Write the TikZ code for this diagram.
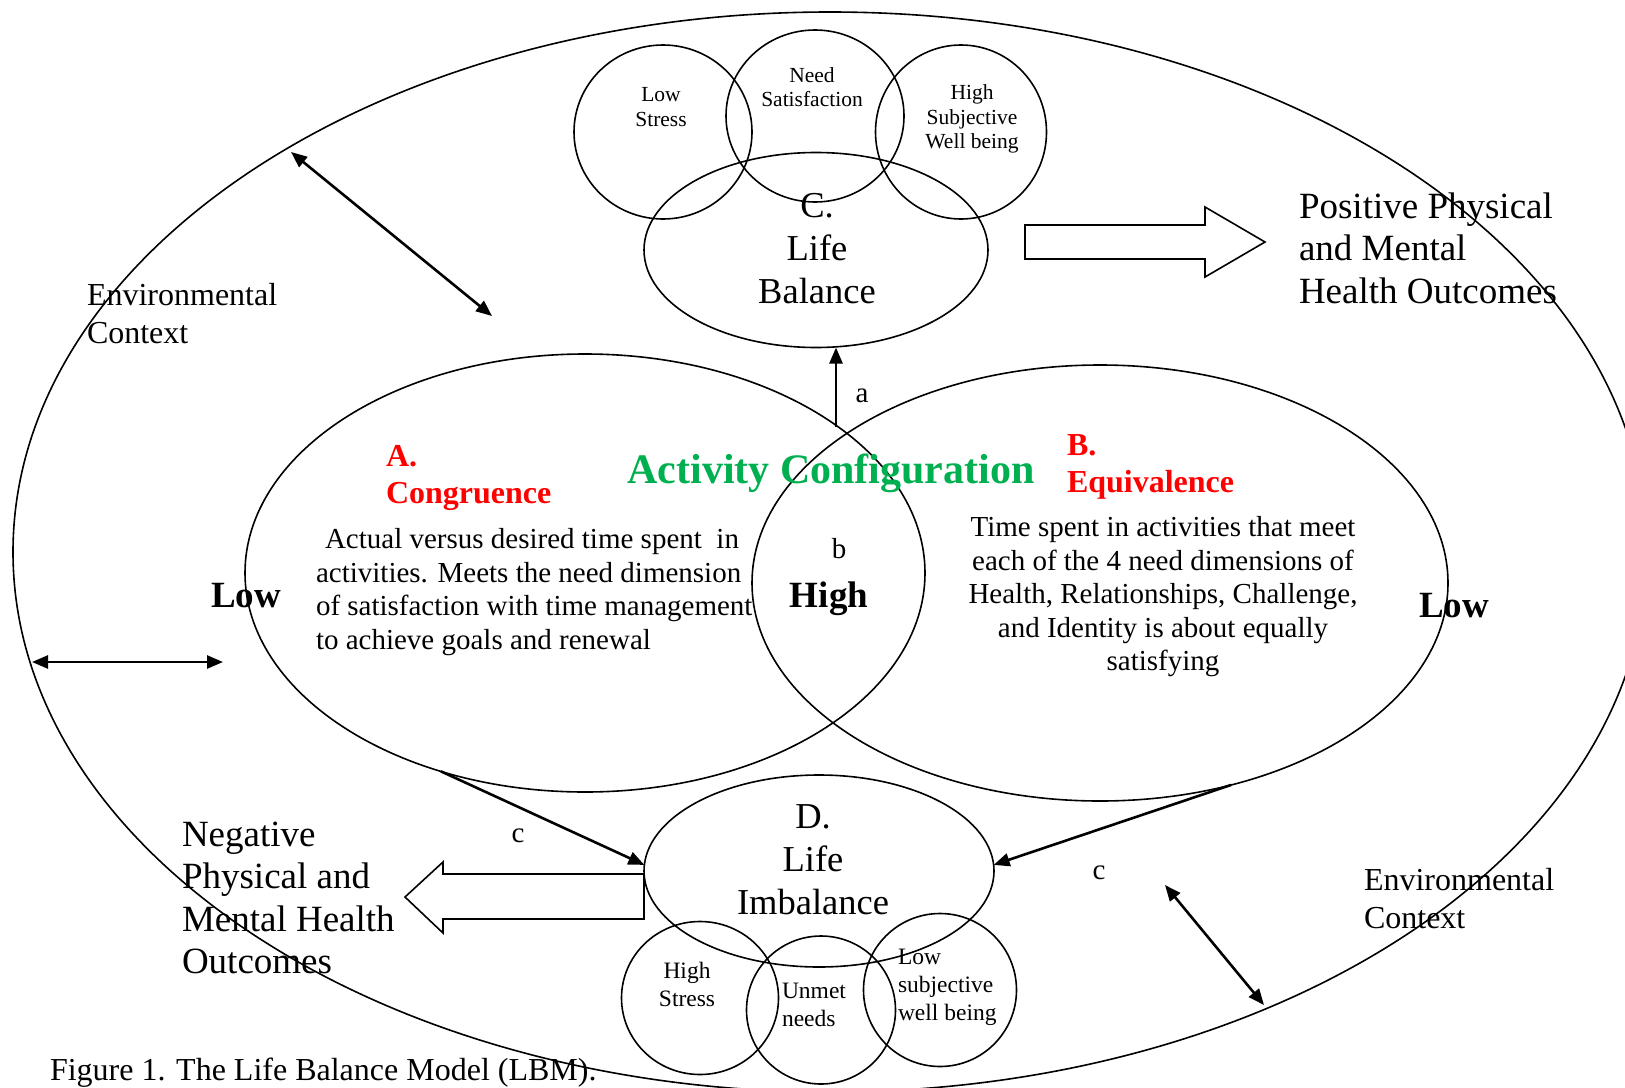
\documentclass[tikz,border=0pt]{standalone}
\usepackage{fontspec}
\setmainfont{Liberation Serif}
\usetikzlibrary{shapes.geometric,arrows.meta}

\definecolor{cfgreen}{RGB}{0,176,80}
\definecolor{cfred}{RGB}{255,0,0}

\begin{document}
\begin{tikzpicture}[x=1pt,y=-1pt,
  ring/.style={draw,ellipse,line width=1.6pt,inner sep=0pt,outer sep=0pt},
  link/.style={line width=2.6pt,-{Triangle[length=16pt,width=13pt]}},
  biarrow/.style={line width=2.6pt,{Triangle[length=16pt,width=13pt]}-{Triangle[length=16pt,width=13pt]}},
  blockarrow/.style={draw,line width=1.6pt,line join=miter},
  txt/.style={inner sep=0pt,outer sep=0pt,align=center},
  huge/.style={txt,font=\fontsize{37}{42.5}\selectfont},
  big/.style={txt,font=\fontsize{36.5}{43}\selectfont},
  env/.style={txt,align=left,font=\fontsize{32}{38}\selectfont},
  body/.style={txt,font=\fontsize{29}{33.5}\selectfont},
  small/.style={txt,font=\fontsize{21.5}{24.5}\selectfont},
  smallb/.style={txt,font=\fontsize{23.5}{28}\selectfont},
  headred/.style={txt,align=left,text=cfred,font=\fontsize{32}{37.5}\selectfont\bfseries},
  level/.style={txt,font=\fontsize{37}{42}\selectfont\bfseries},
  tag/.style={txt,font=\fontsize{29}{33}\selectfont}
]
\useasboundingbox (0,0) rectangle (1625,1087);

% environment boundary
\node[ring,minimum width=1634pt,minimum height=1080pt] (world) at (830,552) {};

% activity configuration: congruence and equivalence
\node[ring,minimum width=680pt,minimum height=438pt] (A) at (585,573) {};
\node[ring,minimum width=696pt,minimum height=436pt] (B) at (1100,583) {};

% life balance and its three outcomes
\node[ring,minimum width=344pt,minimum height=195pt] (C) at (816,250) {};
\node[ring,minimum width=178pt,minimum height=174pt] (lowstress) at (663,132) {};
\node[ring,minimum width=178pt,minimum height=172pt] (needsat) at (815,116) {};
\node[ring,minimum width=171pt,minimum height=174pt] (highswb) at (961,132) {};

% life imbalance and its three outcomes
\node[ring,minimum width=350pt,minimum height=192pt] (D) at (819,871) {};
\node[ring,minimum width=157pt,minimum height=153pt] (highstress) at (700,998) {};
\node[ring,minimum width=149pt,minimum height=148pt] (unmet) at (821,1010) {};
\node[ring,minimum width=153pt,minimum height=153pt] (lowswb) at (940,990) {};

% texts in the circles
\node[big] (Ctext) at (817,249) {C.\\Life\\Balance};
\node[big] (Dtext) at (813,860) {D.\\Life\\Imbalance};
\node[small] (t1) at (661,107) {Low\\Stress};
\node[small] (t2) at (812,87) {Need\\Satisfaction};
\node[small] (t3) at (972,119) {High\\Subjective\\Well being};
\node[smallb] (t4) at (687,984) {High\\Stress};
\node[smallb,align=left,anchor=west] (t5) at (782,1005) {Unmet\\needs};
\node[smallb,align=left,anchor=west] (t6) at (898,987) {Low\\subjective\\well being};

% activity configuration texts
\node[txt,text=cfgreen,font=\fontsize{42}{46}\selectfont\bfseries] (actcfg) at (831,473) {Activity Configuration};
\node[headred,anchor=west] (Ahead) at (386,478) {A.\\Congruence};
\node[headred,anchor=west] (Bhead) at (1067,467) {B.\\Equivalence};
\node[body,align=left,anchor=west] (Atext) at (316,592) {\hspace{9pt}Actual versus desired time spent\ \ in\\activities. Meets the need dimension\\of satisfaction with time management\\to achieve goals and renewal};
\node[body] (Btext) at (1163,597) {Time spent in activities that meet\\each of the 4 need dimensions of\\Health, Relationships, Challenge,\\and Identity is about equally\\satisfying};
\node[level] (lowL) at (246,596) {Low};
\node[level] (high) at (829,599) {High};
\node[level] (lowR) at (1454,606) {Low};

% outcome texts
\node[huge,align=left,anchor=west] (pos) at (1299,248) {Positive Physical\\and Mental\\Health Outcomes};
\node[huge,align=left,anchor=west] (neg) at (182,898) {Negative\\Physical and\\Mental Health\\Outcomes};
\node[env,anchor=west] (envL) at (87,314) {Environmental\\Context};
\node[env,anchor=west] (envR) at (1364,899) {Environmental\\Context};
\node[txt,anchor=west,font=\fontsize{32}{36}\selectfont] (caption) at (50,1073) {Figure 1. The Life Balance Model (LBM).};

% hollow outcome arrows
\draw[blockarrow] (1025,225) -- (1205,225) -- (1205,207) -- (1265,242) -- (1205,277) -- (1205,259) -- (1025,259) -- cycle;
\draw[blockarrow] (644,874) -- (443,874) -- (443,862) -- (405,897) -- (443,933) -- (443,919) -- (644,919) -- cycle;

% pathways a, b, c
\coordinate (aStart) at (836,427);
\draw[link] (aStart) -- (aStart |- C.south);
\node[tag] (la) at (862,396) {a};
\node[tag] (lb) at (839,549) {b};
\draw[link] (A.234) -- (D.178);
\draw[link] (B.-57.5) -- (D.2);
\node[tag] (lc1) at (518,836) {c};
\node[tag] (lc2) at (1099,873) {c};

% environmental interactions
\coordinate (e1a) at (291,152);
\coordinate (e1b) at (492,316);
\coordinate (e2a) at (32,662);
\coordinate (e2b) at (223,662);
\coordinate (e3a) at (1165,885);
\coordinate (e3b) at (1264,1005);
\draw[biarrow] (e1a) -- (e1b);
\draw[biarrow] (e2a) -- (e2b);
\draw[biarrow] (e3a) -- (e3b);
\end{tikzpicture}
\end{document}
